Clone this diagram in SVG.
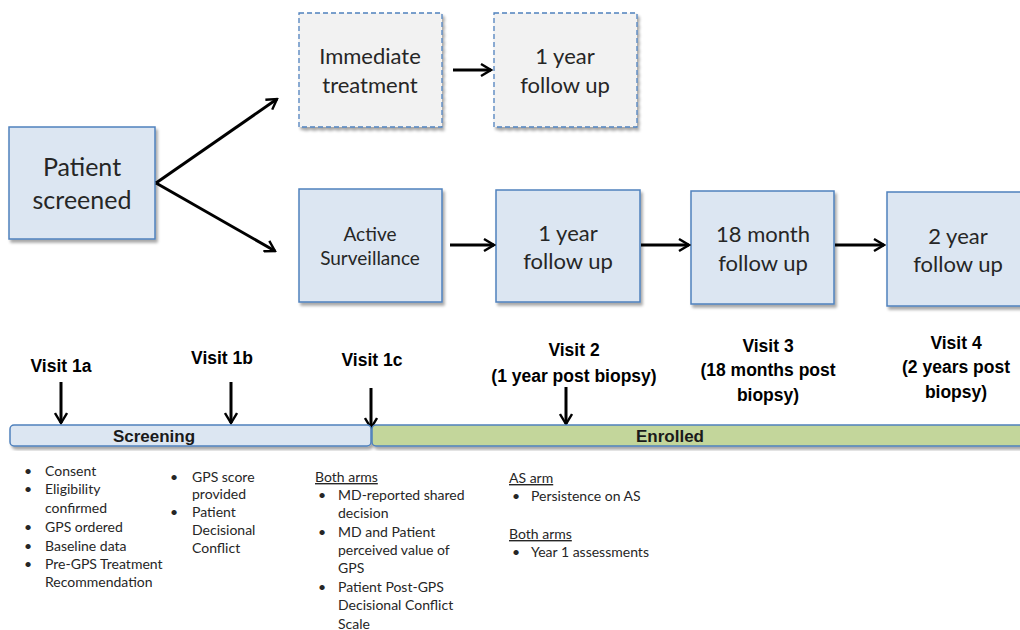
<svg xmlns="http://www.w3.org/2000/svg" width="1020" height="630" viewBox="0 0 1020 630">
<defs>
<filter id="sh" x="-10%" y="-10%" width="130%" height="130%">
<feGaussianBlur in="SourceAlpha" stdDeviation="1.5"/>
<feOffset dx="1.5" dy="2.5"/>
<feComponentTransfer><feFuncA type="linear" slope="0.35"/></feComponentTransfer>
<feMerge><feMergeNode/><feMergeNode in="SourceGraphic"/></feMerge>
</filter>
<marker id="ah" viewBox="0 0 14 14" refX="12" refY="7" markerWidth="14" markerHeight="14" markerUnits="userSpaceOnUse" orient="auto">
<polyline points="2,1 12,7 2,13" fill="none" stroke="#000" stroke-width="2.4"/>
</marker>
</defs>
<style>
.box{fill:#dce6f2;stroke:#4f81bd;stroke-width:1.5;filter:url(#sh)}
.dash{fill:#f2f2f2;stroke:#4f81bd;stroke-width:1.3;stroke-dasharray:5,3;filter:url(#sh)}
.t{font-family:Lato,"Open Sans","Liberation Sans",sans-serif;fill:#262626;text-anchor:middle}
.big{font-size:25px}
.mid{font-size:22px}
.sm{font-size:19px}
.v{font-family:"Liberation Sans",Arial,sans-serif;font-weight:bold;font-size:17.5px;fill:#000;text-anchor:middle}
.bar{font-family:"Liberation Sans",Arial,sans-serif;font-weight:bold;font-size:17px;fill:#1a1a1a;text-anchor:middle}
.b{font-family:Lato,"Liberation Sans",sans-serif;font-size:14px;fill:#262626}
.u{text-decoration:underline}
.c{stroke:#000;stroke-width:3;fill:none;marker-end:url(#ah)}
</style>

<g id="patient-screened">
<rect class="box" x="9" y="127" width="146" height="112"/>
<text class="t big" x="82" y="176">Patient</text>
<text class="t big" x="82" y="209">screened</text>
</g>
<g id="immediate-treatment">
<rect class="dash" x="299" y="13" width="143" height="114"/>
<text class="t mid" x="370" y="64">Immediate</text>
<text class="t mid" x="370" y="93">treatment</text>
</g>
<g id="it-1year">
<rect class="dash" x="494" y="13" width="143" height="114"/>
<text class="t mid" x="565" y="64">1 year</text>
<text class="t mid" x="565" y="93">follow up</text>
</g>
<g id="active-surveillance">
<rect class="box" x="299" y="189" width="143" height="113"/>
<text class="t sm" x="370" y="241">Active</text>
<text class="t sm" x="370" y="265">Surveillance</text>
</g>
<g id="as-1year">
<rect class="box" x="496" y="190" width="144" height="112"/>
<text class="t mid" x="568" y="241">1 year</text>
<text class="t mid" x="568" y="269">follow up</text>
</g>
<g id="as-18month">
<rect class="box" x="691" y="191" width="143" height="113"/>
<text class="t mid" x="763" y="242">18 month</text>
<text class="t mid" x="763" y="271">follow up</text>
</g>
<g id="as-2year">
<rect class="box" x="887" y="192" width="143" height="114"/>
<text class="t mid" x="958" y="244">2 year</text>
<text class="t mid" x="958" y="272">follow up</text>
</g>

<g id="connectors">
<line class="c" x1="156" y1="183" x2="277" y2="99"/>
<line class="c" x1="156" y1="183" x2="275" y2="251"/>
<line class="c" x1="453" y1="70" x2="491" y2="70"/>
<line class="c" x1="450" y1="245" x2="494" y2="245"/>
<line class="c" x1="641" y1="245" x2="689" y2="245"/>
<line class="c" x1="835" y1="245" x2="884" y2="245"/>
<line class="c" x1="61" y1="382" x2="61" y2="423"/>
<line class="c" x1="231" y1="382" x2="231" y2="423"/>
<line class="c" x1="371" y1="388" x2="371" y2="428"/>
<line class="c" x1="566" y1="387" x2="566" y2="424"/>
</g>

<g id="timeline">
<rect x="10" y="425" width="361" height="21" rx="4" fill="#dce6f2" stroke="#4f81bd" stroke-width="1.5" filter="url(#sh)"/>
<rect x="372" y="425" width="660" height="21" rx="4" fill="#c3d69b" stroke="#4f81bd" stroke-width="1.5" filter="url(#sh)"/>
<text class="bar" x="154" y="442">Screening</text>
<text class="bar" x="670" y="442">Enrolled</text>
</g>

<g id="visit-labels">
<text class="v" x="61" y="372">Visit 1a</text>
<text class="v" x="222" y="364">Visit 1b</text>
<text class="v" x="372" y="366">Visit 1c</text>
<text class="v" x="574" y="356">Visit 2</text>
<text class="v" x="574" y="382">(1 year post biopsy)</text>
<text class="v" x="768" y="352">Visit 3</text>
<text class="v" x="768" y="376">(18 months post</text>
<text class="v" x="768" y="401">biopsy)</text>
<text class="v" x="956" y="349">Visit 4</text>
<text class="v" x="956" y="373">(2 years post</text>
<text class="v" x="956" y="398">biopsy)</text>
</g>

<g id="notes">
<g class="b">
<text x="24" y="476">•</text><text x="45" y="476">Consent</text>
<text x="24" y="494">•</text><text x="45" y="494">Eligibility</text>
<text x="45" y="513">confirmed</text>
<text x="24" y="532">•</text><text x="45" y="532">GPS ordered</text>
<text x="24" y="551">•</text><text x="45" y="551">Baseline data</text>
<text x="24" y="569">•</text><text x="45" y="569">Pre-GPS Treatment</text>
<text x="45" y="587">Recommendation</text>

<text x="170" y="482">•</text><text x="192" y="482">GPS score</text>
<text x="192" y="499">provided</text>
<text x="170" y="517">•</text><text x="192" y="517">Patient</text>
<text x="192" y="535">Decisional</text>
<text x="192" y="553">Conflict</text>

<text class="u" x="315" y="482">Both arms</text>
<text x="318" y="500">•</text><text x="338" y="500">MD-reported shared</text>
<text x="338" y="518">decision</text>
<text x="318" y="537">•</text><text x="338" y="537">MD and Patient</text>
<text x="338" y="555">perceived value of</text>
<text x="338" y="573">GPS</text>
<text x="318" y="592">•</text><text x="338" y="592">Patient Post-GPS</text>
<text x="338" y="610">Decisional Conflict</text>
<text x="338" y="629">Scale</text>

<text class="u" x="509" y="483">AS arm</text>
<text x="512" y="501">•</text><text x="531" y="501">Persistence on AS</text>
<text class="u" x="509" y="539">Both arms</text>
<text x="512" y="557">•</text><text x="531" y="557">Year 1 assessments</text>
</g>
</g>
</svg>
